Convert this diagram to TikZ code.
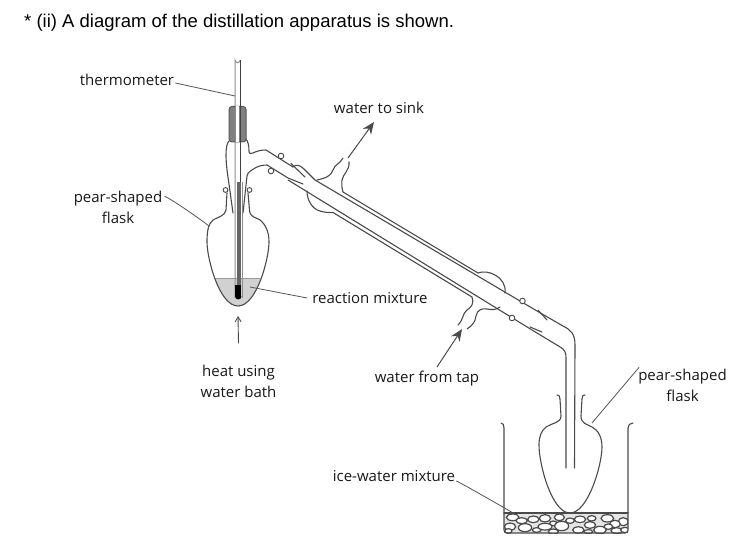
\documentclass[tikz,border=0pt]{standalone}
\usepackage{fontspec}
\setmainfont{Liberation Sans}
\newfontfamily\labelfont{Open Sans}
\usetikzlibrary{arrows.meta}
\definecolor{ink}{HTML}{4A4A4A}
\definecolor{leader}{HTML}{555555}
\tikzset{
  glass/.style={draw=ink,line width=1.1pt,line cap=round,line join=round},
  lead/.style={draw=leader,line width=0.8pt},
  flow/.style={draw=ink,line width=1pt,-{Stealth[length=12pt,width=10pt]}},
  lab/.style={font=\labelfont\fontsize{15}{20.5}\selectfont,text=black!90,inner sep=0pt,align=center},
  stone/.style={draw=ink,line width=1.2pt,fill=white},
  ball/.style={draw=ink,line width=0.9pt,fill=white}
}
\begin{document}
\begin{tikzpicture}[x=1pt,y=-1pt]
\useasboundingbox (0,0) rectangle (753,553);
\fill[white] (0,0) rectangle (753,553);
\node[anchor=west,inner sep=0pt,font=\fontsize{18.5}{20}\selectfont,text=black] (title) at (24,23) {* (ii) A diagram of the distillation apparatus is shown.};
% labels
\node[lab] (thermo) at (127,80) {thermometer};
\node[lab] (sink) at (379,108) {water to sink};
\node[lab] (flaskA) at (118,207.5) {pear-shaped\\flask};
\node[lab] (mix) at (370,298) {reaction mixture};
\node[lab] (heat) at (238.5,381.5) {heat using\\water bath};
\node[lab] (tap) at (427,379) {water from tap};
\node[lab] (flaskB) at (682.5,385.5) {pear-shaped\\flask};
\node[lab] (ice) at (394,476) {ice-water mixture};
% flask 1 with liquid
\begin{scope}
\clip (207,242) .. controls (207,258) and (219,306) .. (238,306) .. controls (257,306) and (269,258) .. (269,242) -- cycle;
\fill[black!18] (200,278) rectangle (280,310);
\end{scope}
\draw[draw=black!40,line width=0.8pt] (215,278) -- (260,278);
\draw[glass] (227,193) -- (226,210) .. controls (225,216) and (218,217) .. (213,220) .. controls (208,224) and (207,232) .. (207,242) .. controls (207,258) and (219,306) .. (238,306) .. controls (257,306) and (269,258) .. (269,242) .. controls (269,232) and (266,225) .. (260,220) .. controls (256,217) and (250,218) .. (249.5,210) -- (248,193);
\draw[ball] (225.5,190) circle (2.4);
\draw[ball] (249.5,190) circle (2.4);
% still head
\draw[glass] (229,141) .. controls (227,143) and (226,148) .. (226,155) .. controls (226,160) and (226.5,165) .. (227,170) -- (233,213);
\draw[glass] (246,139) .. controls (248,141) and (249,146) .. (249,151) .. controls (249,154) and (251,154) .. (253,153) .. controls (257,151) and (261,150) .. (266,150) -- (293,167);
\draw[glass] (243,213) -- (247,176) .. controls (247.5,172) and (252,170) .. (256,167.5) .. controls (259,166) and (263,165) .. (267,165) -- (288,178) -- (303,184);
\draw[glass] (291,163.5) -- (305,177);
\draw[ball] (281,156) circle (2.8);
\draw[ball] (271,171) circle (2.8);
% thermometer
\draw[draw=black!45,line width=1pt] (235,298) -- (235,60) arc[start angle=180,end angle=0,radius=2.6] ;
\draw[draw=black!45,line width=1pt] (242.5,182) -- (242.5,298);
\draw[draw=black!75,line width=1.4pt] (240.2,60) -- (240.2,182);
\fill[black!60] (237,182) rectangle (240.8,288);
\fill[black] (235.2,285) rectangle (241.4,297) ;
\fill[black] (238.3,296.5) ellipse (3.1 and 3);
% bung
\draw[draw=black!65,fill=black!50,line width=1pt,rounded corners=3pt] (229,142) -- (229,106.5) -- (246,106.5) -- (246,142) -- cycle;
\draw[draw=black!45,line width=1pt] (235,106) -- (235,142);
\fill[white] (235.6,106) rectangle (239.4,142);
\draw[draw=black!75,line width=1.4pt] (240.2,106) -- (240.2,142);
% condenser
\draw[glass] (293,167) .. controls (296,164) and (300,165) .. (304,169) -- (315,180) -- (537,311) -- (563,326) .. controls (571,330) and (575,334) .. (575,345) -- (574.5,468);
\draw[glass] (343,192) -- (478,273);
\draw[glass] (288,180) -- (532,330) -- (561,347.5) .. controls (565,350) and (566,353) .. (566,358) -- (566,468);
\draw[glass] (333,212.5) -- (472,297);
% jacket bulges and outlets
\draw[glass] (317,180) .. controls (326,178) and (331,176) .. (333,170) .. controls (335,164) and (340,164) .. (343,158);
\draw[glass] (349,162) .. controls (350,170) and (343,174) .. (342,180) .. controls (341.5,185) and (342,189) .. (343,192);
\draw[glass] (307,191) .. controls (307,200) and (312,209) .. (320,211) .. controls (324,212.5) and (329,212.5) .. (333,212.5);
\draw[glass] (478,273) .. controls (483,271) and (490,272) .. (495,275) .. controls (502,279) and (506,285) .. (505,293);
\draw[glass] (472,297) .. controls (474,303) and (472,307) .. (467,310) .. controls (462,314) and (464,319) .. (458,325);
\draw[glass] (467,329) .. controls (473,325) and (475,322) .. (476,316) .. controls (477,310) and (482,308) .. (487,309) .. controls (492,310) and (496,310) .. (500,307);
% receiver adapter
\draw[ball] (522.5,301) circle (2.8);
\draw[ball] (512,318) circle (2.8);
\draw[glass] (538,310) -- (547,320);
\draw[glass] (530,327) -- (542,332);
% flask 2
\draw[glass] (557,395) .. controls (558.5,394.5) and (560,396) .. (560,399) -- (561,416) .. controls (561,423) and (552,423) .. (546,427) .. controls (541,431) and (539,437) .. (539,445) .. controls (539,465) and (552,513) .. (570,513) .. controls (588,513) and (602,465) .. (602,447) .. controls (602,437) and (598,430) .. (592,427) .. controls (587,424) and (581,424) .. (581,416) -- (582,399) .. controls (582,396) and (583,394.5) .. (585,395);
% beaker stones
\begin{scope}
\clip (504,513) rectangle (628,533);
\fill[black!10] (504,513) rectangle (628,533);
\foreach \X/\Y/\A/\B in {38/112/19/10,65/122/17/9,100/118/17/10,135/115/17/11,178/112/15/10,240/118/17/10,275/115/13/8,322/115/19/11,370/125/15/12,210/122/13/8,160/130/11/7,345/132/16/11,270/135/17/10,325/140/13/8,30/140/17/11,75/143/20/12,110/150/13/7,135/140/21/10,185/138/21/14,235/150/17/10,300/150/19/11,350/152/17/9,375/150/13/8,25/153/11/7,160/155/15/8,265/155/13/6}
  \draw[stone] ({500+\X/3},{480+\Y/3}) ellipse ({\A/3} and {\B/3});
\end{scope}
\draw[glass] (501,423) .. controls (503,423) and (504,425) .. (504,428) -- (504,530) .. controls (504,532) and (505,533) .. (507,533) -- (625,533) .. controls (627,533) and (628,532) .. (628,530) -- (628,428) .. controls (628,425) and (630,423) .. (633,423);
\draw[glass] (504,513) -- (628,513);
% leaders
\coordinate (thermoTip) at (235,96);
\coordinate (flaskATip) at (208,226);
\coordinate (mixTip) at (250,287);
\coordinate (flaskBTip) at (592,423);
\coordinate (iceTip) at (513,513);
\coordinate (sinkFrom) at (348,158);
\coordinate (sinkTip) at (374,122);
\coordinate (tapFrom) at (437,367);
\coordinate (tapTip) at (462,329);
\coordinate (heatTip) at (238,316);
\draw[lead] (thermo.east) ++(1,3) -- (thermoTip);
\draw[lead] (flaskA.north east) ++(2,5) .. controls +(5,1) and +(8,4) .. (flaskATip);
\draw[lead] (mix.west) ++(-5,0) -- (mixTip);
\draw[lead] (flaskB.north west) ++(1,-2) -- (flaskBTip);
\draw[lead] (ice.east) ++(1,5) .. controls +(3,1) and +(4,2) .. (iceTip);
\draw[flow] (sinkFrom) -- (sinkTip);
\draw[flow] (tapFrom) -- (tapTip);
\draw[draw=ink,line width=0.9pt,-{Straight Barb[length=5pt,width=6pt]}] (heat.north) ++(0,-22) -- (heatTip);
\end{tikzpicture}
\end{document}
